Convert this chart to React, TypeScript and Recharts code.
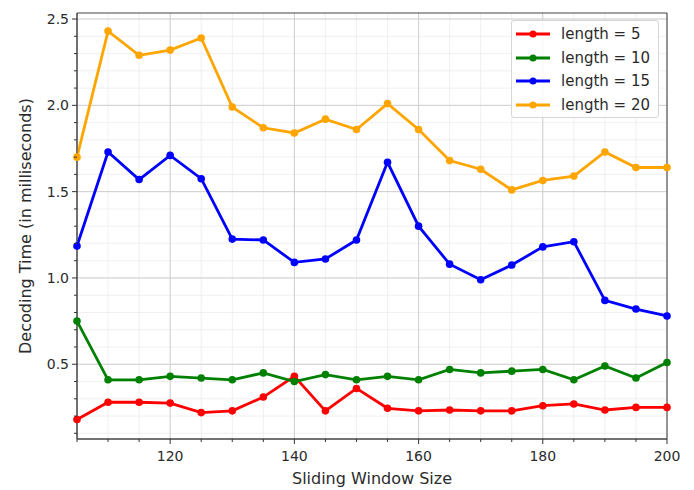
import { LineChart, Line, XAxis, YAxis, CartesianGrid, Legend, ReferenceArea } from 'recharts';

const windowSizes = [105, 110, 115, 120, 125, 130, 135, 140, 145, 150, 155, 160, 165, 170, 175, 180, 185, 190, 195, 200];
const len5 = [0.18, 0.28, 0.28, 0.275, 0.22, 0.23, 0.31, 0.43, 0.23, 0.36, 0.245, 0.23, 0.235, 0.23, 0.23, 0.26, 0.27, 0.235, 0.25, 0.25];
const len10 = [0.75, 0.41, 0.41, 0.43, 0.42, 0.41, 0.45, 0.4, 0.44, 0.41, 0.43, 0.41, 0.47, 0.45, 0.46, 0.47, 0.41, 0.49, 0.42, 0.51];
const len15 = [1.185, 1.73, 1.57, 1.71, 1.575, 1.225, 1.22, 1.09, 1.11, 1.22, 1.67, 1.3, 1.08, 0.99, 1.075, 1.18, 1.21, 0.87, 0.82, 0.78];
const len20 = [1.7, 2.43, 2.29, 2.32, 2.39, 1.99, 1.87, 1.84, 1.92, 1.86, 2.01, 1.86, 1.68, 1.63, 1.51, 1.565, 1.59, 1.73, 1.64, 1.64];

const xMajor = [120, 140, 160, 180, 200];
const xMinor = [105, 110, 115, 120, 125, 130, 135, 140, 145, 150, 155, 160, 165, 170, 175, 180, 185, 190, 195, 200];
const yMajor = [0.5, 1.0, 1.5, 2.0, 2.5];
const yMinor = [0.1, 0.2, 0.3, 0.4, 0.5, 0.6, 0.7, 0.8, 0.9, 1.0, 1.1, 1.2, 1.3, 1.4, 1.5, 1.6, 1.7, 1.8, 1.9, 2.0, 2.1, 2.2, 2.3, 2.4, 2.5];

const series = [
  { key: 'l5', name: 'length = 5', color: '#ff0000', values: len5 },
  { key: 'l10', name: 'length = 10', color: '#008000', values: len10 },
  { key: 'l15', name: 'length = 15', color: '#0000ff', values: len15 },
  { key: 'l20', name: 'length = 20', color: '#ffa500', values: len20 },
];

const data = windowSizes.map((w, i) => {
  const row: any = { w };
  series.forEach((s) => { row[s.key] = s.values[i]; });
  return row;
});

const FONT = '"DejaVu Sans", sans-serif';
const TEXT = '#2b2b2b';

const isMajor = (v: number, list: number[]) => list.some((m) => Math.abs(m - v) < 1e-6);

const XTick = ({ x, y, payload }: any) => {
  const major = isMajor(payload.value, xMajor);
  return (
    <g>
      <line x1={x} x2={x} y1={y} y2={y + (major ? 5 : 3)} stroke="#333" strokeWidth={1} />
      {major && (
        <text x={x} y={y + 22} textAnchor="middle" fontSize={14} fontFamily={FONT} fill={TEXT}>
          {payload.value}
        </text>
      )}
    </g>
  );
};

const YTick = ({ x, y, payload }: any) => {
  const major = isMajor(payload.value, yMajor);
  return (
    <g>
      <line x1={x - (major ? 5 : 3)} x2={x} y1={y} y2={y} stroke="#333" strokeWidth={1} />
      {major && (
        <text x={x - 8} y={y + 5} textAnchor="end" fontSize={14} fontFamily={FONT} fill={TEXT}>
          {payload.value.toFixed(1)}
        </text>
      )}
    </g>
  );
};

const YTitle = ({ viewBox }: any) => {
  const cx = viewBox.x + 25;
  const cy = viewBox.y + viewBox.height / 2;
  return (
    <text x={cx} y={cy} transform={`rotate(-90, ${cx}, ${cy})`} textAnchor="middle" dominantBaseline="central" fontSize={16} fontFamily={FONT} fill={TEXT}>
      Decoding Time (in milliseconds)
    </text>
  );
};

const XTitle = ({ viewBox }: any) => {
  const cx = viewBox.x + viewBox.width / 2;
  return (
    <text x={cx} y={viewBox.y + 39} textAnchor="middle" dominantBaseline="central" fontSize={16} fontFamily={FONT} fill={TEXT}>
      Sliding Window Size
    </text>
  );
};

const LegendBox = () => (
  <div
    style={{
      width: 146,
      height: 96,
      border: '1px solid #d6d6d6',
      borderRadius: 3,
      background: 'rgba(255,255,255,0.85)',
      position: 'relative',
      fontFamily: FONT,
      fontSize: 15,
      color: TEXT,
    }}
  >
    {series.map((s, i) => (
      <div key={s.key} style={{ position: 'absolute', left: 4, top: 2 + i * 23.7, height: 22, display: 'flex', alignItems: 'center' }}>
        <svg width={34} height={10}>
          <line x1={0} x2={34} y1={5} y2={5} stroke={s.color} strokeWidth={2.8} />
          <circle cx={17} cy={5} r={3.5} fill={s.color} />
        </svg>
        <span style={{ marginLeft: 11, lineHeight: '22px', whiteSpace: 'nowrap' }}>{s.name}</span>
      </div>
    ))}
  </div>
);

export default function App() {
  return (
    <div style={{ position: 'absolute', left: 0, top: 0, width: 694, height: 490, background: '#fff' }}>
      <LineChart width={694} height={490} data={data} margin={{ top: 13, right: 27, bottom: 0, left: 0 }}>
        <CartesianGrid verticalValues={xMinor} horizontalValues={yMinor} stroke="#ececec" strokeWidth={0.8} />
        <CartesianGrid verticalValues={xMajor} horizontalValues={yMajor} stroke="#d0d0d0" strokeWidth={1} />
        <XAxis
          dataKey="w"
          type="number"
          domain={[105, 200]}
          ticks={xMinor}
          interval={0}
          height={51}
          tickSize={0}
          tickMargin={0}
          tickLine={false}
          tick={<XTick />}
          axisLine={{ stroke: '#444' }}
          label={<XTitle />}
        />
        <YAxis
          type="number"
          domain={[0.067, 2.535]}
          ticks={yMinor}
          interval={0}
          width={77}
          tickSize={0}
          tickMargin={0}
          tickLine={false}
          tick={<YTick />}
          axisLine={{ stroke: '#444' }}
          allowDataOverflow
          label={<YTitle />}
        />
        <ReferenceArea x1={105} x2={200} y1={0.067} y2={2.535} fill="none" stroke="#444" strokeWidth={1} ifOverflow="visible" />
        {series.map((s) => (
          <Line
            key={s.key}
            type="linear"
            dataKey={s.key}
            name={s.name}
            stroke={s.color}
            strokeWidth={2.8}
            dot={{ r: 3.8, fill: s.color, stroke: s.color, strokeWidth: 0 }}
            isAnimationActive={false}
          />
        ))}
        <Legend
          layout="vertical"
          align="center"
          verticalAlign="middle"
          content={<LegendBox />}
          wrapperStyle={{ position: 'absolute', left: 511, top: 20, width: 148, bottom: 'auto', right: 'auto' }}
        />
      </LineChart>
    </div>
  );
}
